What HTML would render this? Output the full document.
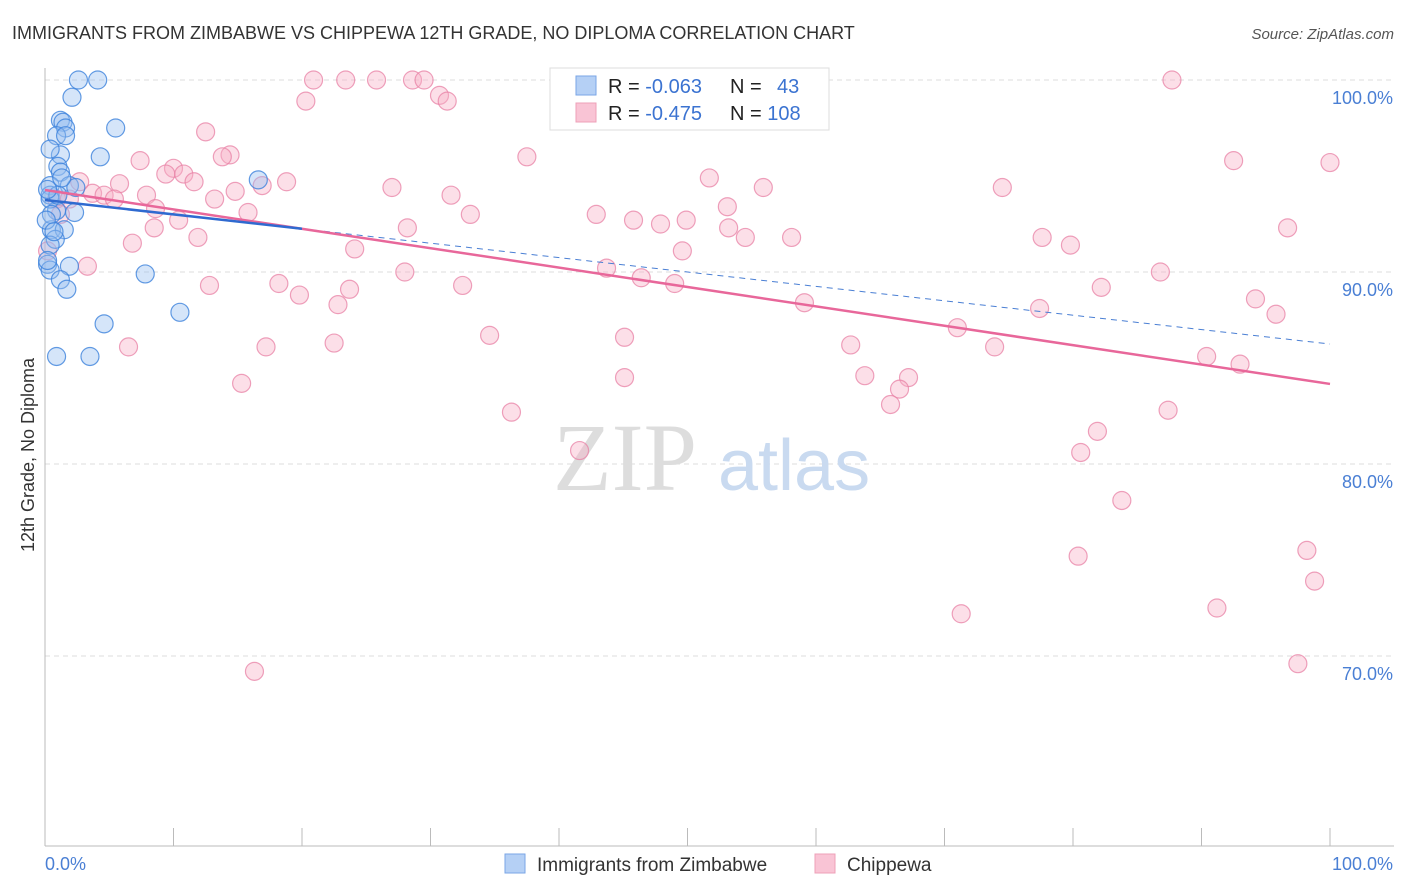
<!DOCTYPE html>
<html><head><meta charset="utf-8"><style>
body{margin:0;background:#fff;font-family:"Liberation Sans",sans-serif;}
svg{display:block}
</style></head><body>
<svg id="chart" width="1406" height="892" xmlns="http://www.w3.org/2000/svg">
<text x="12" y="39" font-size="18" fill="#333">IMMIGRANTS FROM ZIMBABWE VS CHIPPEWA 12TH GRADE, NO DIPLOMA CORRELATION CHART</text>
<text x="1394" y="39" font-size="15" fill="#555" font-style="italic" text-anchor="end">Source: ZipAtlas.com</text>
<g id="grid"></g>
<g><text x="553" y="490" font-size="96" font-family="Liberation Serif,serif" fill="#ddd">ZIP</text><text x="718" y="490" font-size="72" fill="#c9daf0">atlas</text></g>
<line x1="45" y1="68" x2="45" y2="846" stroke="#bbb"/>
<line x1="45" y1="846" x2="1394" y2="846" stroke="#bbb"/>
<g id="xticks"></g>
<g id="ylabels"></g>
<text x="45" y="870" font-size="18" fill="#4a7fd4">0.0%</text>
<text x="1393" y="870" font-size="18" fill="#4a7fd4" text-anchor="end">100.0%</text>
<text transform="translate(34,455) rotate(-90)" font-size="18" fill="#333" text-anchor="middle">12th Grade, No Diploma</text>
<g id="pink"></g>
<g id="blue"></g>
<g id="trends"></g>
<g>
<rect x="550" y="68" width="279" height="62" fill="#fff" stroke="#ddd"/>
<rect x="576" y="76" width="20" height="19" fill="#b5d0f5" stroke="#7aa6e6"/>
<rect x="576" y="103" width="20" height="19" fill="#f9c4d5" stroke="#eea0b8"/>
<text x="608" y="93" font-size="20" fill="#222">R = <tspan fill="#3b73d1">-0.063</tspan></text>
<text x="730" y="93" font-size="20" fill="#222">N = <tspan x="777" fill="#3b73d1">43</tspan></text>
<text x="608" y="120" font-size="20" fill="#222">R = <tspan fill="#3b73d1">-0.475</tspan></text>
<text x="730" y="120" font-size="20" fill="#222">N = <tspan fill="#3b73d1">108</tspan></text>
</g>
<g>
<rect x="505" y="854" width="20" height="19" fill="#b5d0f5" stroke="#7aa6e6"/>
<text x="537" y="871" font-size="19" fill="#333">Immigrants from Zimbabwe</text>
<rect x="815" y="854" width="20" height="19" fill="#f9c4d5" stroke="#eea0b8"/>
<text x="847" y="871" font-size="19" fill="#333">Chippewa</text>
</g>
</svg>
<script>
const yTicks=[100,90,80,70];
const yTickLabels=["100.0%","90.0%","80.0%","70.0%"];
const xTicks=[0,10,20,30,40,50,60,70,80,90,100];
const blueX=[2.6,4.1,2.1,1.2,1.4,1.6,5.5,0.9,1.6,1.2,4.3,1.0,1.2,0.4,1.9,2.4,16.6,0.4,0.9,2.3,0.5,1.5,0.8,0.4,1.9,0.2,0.4,1.2,1.7,7.8,10.5,4.6,0.9,3.5,0.4,0.2,0.5,1.0,0.2,0.1,0.7,1.3,0.4];
const blueY=[100,100,99.1,97.9,97.8,97.5,97.5,97.1,97.1,96.1,96.0,95.5,95.2,94.5,94.5,94.4,94.8,94.0,93.2,93.1,92.2,92.2,91.7,91.4,90.3,90.4,90.1,89.6,89.1,89.9,87.9,87.3,85.6,85.6,93.8,90.6,93.0,94.0,94.3,92.7,92.1,94.9,96.4];
const pinkX=[87.7,20.9,23.4,25.8,28.6,29.5,20.3,30.7,31.3,12.5,7.4,14.4,13.8,37.5,92.5,100,10.0,9.4,10.8,11.6,5.8,18.8,16.9,51.7,55.9,74.5,27.0,14.8,3.7,4.6,7.9,13.2,31.6,5.4,0.9,2.7,8.6,15.8,33.1,42.9,53.1,45.8,47.9,49.9,28.2,53.2,10.4,8.5,96.7,11.9,54.5,58.1,77.6,6.8,24.1,49.6,79.8,3.3,28.0,43.7,46.4,49.0,86.8,12.8,18.2,23.7,32.5,82.2,19.8,22.8,59.1,94.2,77.4,95.8,34.6,45.1,71.0,6.5,17.2,22.5,62.7,73.9,90.4,93.0,15.3,45.1,63.8,67.2,66.5,65.8,36.3,87.4,81.9,80.6,41.6,83.8,98.2,80.4,98.8,91.2,71.3,16.3,97.5,1.2,1.9,0.2];
const pinkY=[100,100,100,100,100,100,98.9,99.2,98.9,97.3,95.8,96.1,96.0,96.0,95.8,95.7,95.4,95.1,95.1,94.7,94.6,94.7,94.5,94.9,94.4,94.4,94.4,94.2,94.1,94.0,94.0,93.8,94.0,93.8,93.8,94.7,93.3,93.1,93.0,93.0,93.4,92.7,92.5,92.7,92.3,92.3,92.7,92.3,92.3,91.8,91.8,91.8,91.8,91.5,91.2,91.1,91.4,90.3,90.0,90.2,89.7,89.4,90.0,89.3,89.4,89.1,89.3,89.2,88.8,88.3,88.4,88.6,88.1,87.8,86.7,86.6,87.1,86.1,86.1,86.3,86.2,86.1,85.6,85.2,84.2,84.5,84.6,84.5,83.9,83.1,82.7,82.8,81.7,80.6,80.7,78.1,75.5,75.2,73.9,72.5,72.2,69.2,69.6,93.0,93.8,91.1];
const pinkTrend=[94.27,84.17];
const blueTrend=[93.75,86.25];
const blueSolidEnd=20;
const NS="http://www.w3.org/2000/svg";
function sx(v){return 45+v*12.85;}
function sy(v){return 80+(100-v)*19.2;}
function mk(tag,attrs,parent){const e=document.createElementNS(NS,tag);for(const k in attrs)e.setAttribute(k,attrs[k]);parent.appendChild(e);return e;}
const grid=document.getElementById('grid'),yl=document.getElementById('ylabels'),xt=document.getElementById('xticks');
yTicks.forEach((t,i)=>{
 const l=mk('line',{x1:45,x2:1394,y1:sy(t),y2:sy(t),stroke:'#ddd','stroke-dasharray':'5,4'},grid);
 
 
 const tx=mk('text',{x:1393,y:sy(t)+24,'font-size':18,fill:'#4a7fd4','text-anchor':'end'},yl);
 tx.textContent=yTickLabels[i];
 
 
});
xTicks.forEach(t=>{
 const l=mk('line',{x1:sx(t),x2:sx(t),y1:828,y2:846,stroke:'#bbb'},xt);
 
 
});
const pg=document.getElementById('pink');
pinkX.forEach((x,i)=>{
 const c=mk('circle',{cx:sx(x),cy:sy(pinkY[i]),r:9,fill:'rgba(247,175,198,0.4)',stroke:'rgba(232,130,165,0.75)','stroke-width':1.2},pg);
 
 
});
const bg=document.getElementById('blue');
blueX.forEach((x,i)=>{
 const c=mk('circle',{cx:sx(x),cy:sy(blueY[i]),r:9,fill:'rgba(150,190,240,0.4)',stroke:'rgba(60,130,220,0.8)','stroke-width':1.2},bg);
 
 
});
const tg=document.getElementById('trends');
function by(x){return blueTrend[0]+(blueTrend[1]-blueTrend[0])*x/100;}
const bd=mk('line',{x1:sx(blueSolidEnd),y1:sy(by(blueSolidEnd)),x2:sx(100),y2:sy(by(100)),stroke:'#4a7fd4','stroke-width':1,'stroke-dasharray':'6,5'},tg);


const pt=mk('line',{x1:sx(0),y1:sy(pinkTrend[0]),x2:sx(100),y2:sy(pinkTrend[1]),stroke:'#e8679a','stroke-width':2.5},tg);


const bs=mk('line',{x1:sx(0),y1:sy(by(0)),x2:sx(blueSolidEnd),y2:sy(by(blueSolidEnd)),stroke:'#2f6ad0','stroke-width':2.5},tg);


</script>
</body></html>
